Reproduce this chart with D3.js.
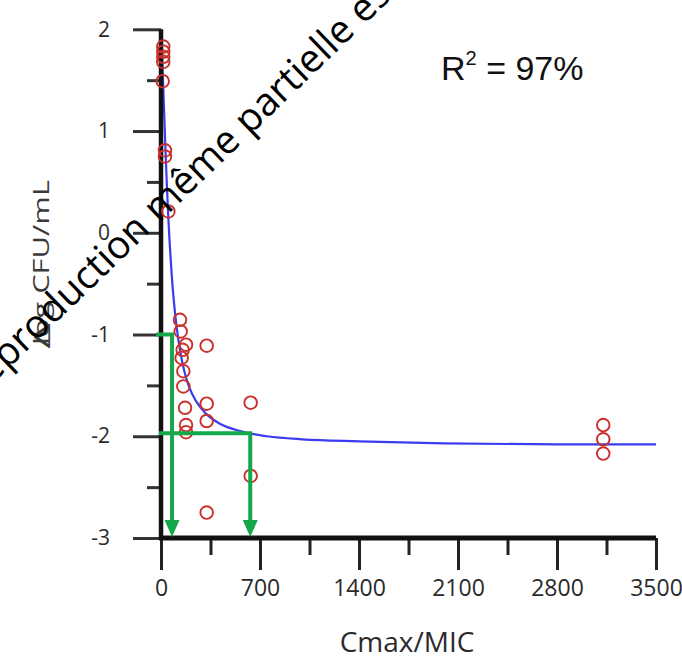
<!DOCTYPE html>
<html>
<head>
<meta charset="utf-8">
<script src="https://cdn.jsdelivr.net/npm/d3@7"></script>
<style>
  html, body { margin: 0; padding: 0; background: #fff; }
  svg { display: block; }
</style>
</head>
<body>
<svg id="chart" width="682" height="659"></svg>
<script>
// Axis ticks
const xTicks = [0, 700, 1400, 2100, 2800, 3500];
const xMinorTicks = [350, 1050, 1750, 2450, 3150];
const yTicks = [-3, -2, -1, 0, 1, 2];
const yMinorTicks = [-2.5, -1.5, -0.5, 0.5, 1.5];

// Observed bacterial kill (Δ log CFU/mL) against Cmax/MIC
const obsRatio = [16, 16, 16, 16, 12, 28, 28, 52,
  134, 139, 177, 153, 323, 146, 158, 158, 170, 323, 634, 177, 177, 323, 634, 323,
  3127, 3127, 3127];
const obsLogChange = [1.83, 1.78, 1.73, 1.68, 1.49, 0.81, 0.75, 0.21,
  -0.855, -0.97, -1.10, -1.15, -1.11, -1.23, -1.36, -1.51, -1.72, -1.68, -1.67, -1.89, -1.96, -1.85, -2.39, -2.75,
  -1.89, -2.03, -2.17];

// Fitted sigmoid Emax curve
const fitRatio = [0, 5, 10, 15, 20, 30, 40, 50, 60, 75, 90, 110, 135, 165, 200, 250, 320, 420, 560, 750, 1000, 1400, 2000, 2800, 3500];
const fitLogChange = [1.90, 1.81, 1.65, 1.47, 1.27, 0.88, 0.52, 0.20, -0.07, -0.40, -0.66, -0.92, -1.16, -1.36, -1.52, -1.66, -1.78, -1.88, -1.95, -2.00, -2.03, -2.05, -2.07, -2.08, -2.08];

// Guide arrows: target reduction level and the matching Cmax/MIC
const guideLevel = [-1, -1.97];
const guideRatio = [78, 631];

const svg = d3.select("#chart");
svg.append("rect").attr("width", 682).attr("height", 659).attr("fill", "#fff");

const x = d3.scaleLinear().domain([0, 3500]).range([161, 656]);
const y = d3.scaleLinear().domain([-3, 2]).range([538, 29.3]);

const tickFont = "'Open Sans', 'DejaVu Sans', sans-serif";
const plain = (d) => String(d);

// Y axis: minor ticks, then major ticks with labels
const yMinor = svg.append("g").attr("transform", `translate(${x(0)},0)`)
  .call(d3.axisLeft(y).tickValues(yMinorTicks).tickSize(14).tickFormat(""));
yMinor.select(".domain").remove();
yMinor.selectAll(".tick line").attr("stroke", "#333").attr("stroke-width", 3);

const yAxis = svg.append("g").attr("transform", `translate(${x(0)},0)`)
  .call(d3.axisLeft(y).tickValues(yTicks).tickSize(28).tickSizeOuter(0).tickPadding(23).tickFormat(plain));
yAxis.select(".domain").remove();
yAxis.selectAll(".tick line").attr("stroke", "#333").attr("stroke-width", 3);
yAxis.selectAll(".tick text").attr("font-family", tickFont).attr("font-size", 21).attr("fill", "#2a2a2a");

// X axis: minor ticks, then major ticks with labels
const xMinor = svg.append("g").attr("transform", `translate(0,${y(-3)})`)
  .call(d3.axisBottom(x).tickValues(xMinorTicks).tickSize(17).tickFormat(""));
xMinor.select(".domain").remove();
xMinor.selectAll(".tick line").attr("stroke", "#222").attr("stroke-width", 3);

const xAxis = svg.append("g").attr("transform", `translate(0,${y(-3)})`)
  .call(d3.axisBottom(x).tickValues(xTicks).tickSize(32).tickSizeOuter(0).tickPadding(10).tickFormat(plain));
xAxis.select(".domain").remove();
xAxis.selectAll(".tick line").attr("stroke", "#222").attr("stroke-width", 3);
xAxis.selectAll(".tick text").attr("font-family", tickFont).attr("font-size", 23).attr("fill", "#2a2a2a");

// Fitted curve
const line = d3.line().x((d, i) => x(fitRatio[i])).y((d, i) => y(fitLogChange[i])).curve(d3.curveMonotoneX);
svg.append("path").datum(fitRatio).attr("d", line)
  .attr("fill", "none").attr("stroke", "#3b3bef").attr("stroke-width", 2.2);

// Axis lines
svg.append("line").attr("x1", x(0)).attr("x2", x(0)).attr("y1", y(2)).attr("y2", y(-3) + 2)
  .attr("stroke", "#111").attr("stroke-width", 4.5);
svg.append("line").attr("x1", x(0) - 2).attr("x2", x(3500)).attr("y1", y(-3)).attr("y2", y(-3))
  .attr("stroke", "#111").attr("stroke-width", 5);

// Observations
svg.append("g").selectAll("circle").data(obsRatio).join("circle")
  .attr("cx", (d) => x(d)).attr("cy", (d, i) => y(obsLogChange[i])).attr("r", 6.3)
  .attr("fill", "none").attr("stroke", "#c9302c").attr("stroke-width", 1.9);

// Guide lines with arrowheads
const green = "#14a84b";
const guides = svg.append("g");
guideLevel.forEach((lv, i) => {
  const gx = x(guideRatio[i]);
  const gy = y(lv);
  const startX = x(0) - (i === 0 ? 5 : 2);
  const tipY = y(-3) - 1;
  guides.append("path")
    .attr("d", `M${startX},${gy} H${gx} V${tipY - 14}`)
    .attr("fill", "none").attr("stroke", green).attr("stroke-width", 4).attr("stroke-linejoin", "miter");
  guides.append("path")
    .attr("d", `M${gx - 7.5},${tipY - 17} L${gx + 7.5},${tipY - 17} L${gx},${tipY} Z`)
    .attr("fill", green);
});

// Goodness-of-fit annotation
const r2 = svg.append("text").attr("x", 441).attr("y", 80)
  .attr("font-family", "'Liberation Sans', Arial, sans-serif").attr("font-size", 34).attr("fill", "#111");
r2.append("tspan").text("R");
r2.append("tspan").attr("font-size", 20).attr("dy", -15).text("2");
r2.append("tspan").attr("dy", 15).text(" = 97%");

// Axis titles
svg.append("text").attr("x", 407).attr("y", 652).attr("text-anchor", "middle")
  .attr("font-family", tickFont).attr("font-size", 28).attr("fill", "#2a2a2a").text("Cmax/MIC");

svg.append("text").attr("transform", "translate(49,345) rotate(-90)")
  .attr("font-family", tickFont).attr("font-size", 22).attr("fill", "#3a3a3a")
  .attr("textLength", 165).attr("lengthAdjust", "spacingAndGlyphs").text("log CFU/mL");
svg.append("text").attr("transform", "translate(50,336) rotate(-90) scale(2,1)")
  .attr("text-anchor", "middle")
  .attr("font-family", tickFont).attr("font-size", 22).attr("fill", "#3a3a3a").text("Δ");

// Diagonal copyright notice
svg.append("text").attr("transform", "translate(-26,402) rotate(-44)")
  .attr("font-family", tickFont).attr("font-size", 39).attr("fill", "#000")
  .text("Reproduction même partielle est interdite");
</script>
</body>
</html>
